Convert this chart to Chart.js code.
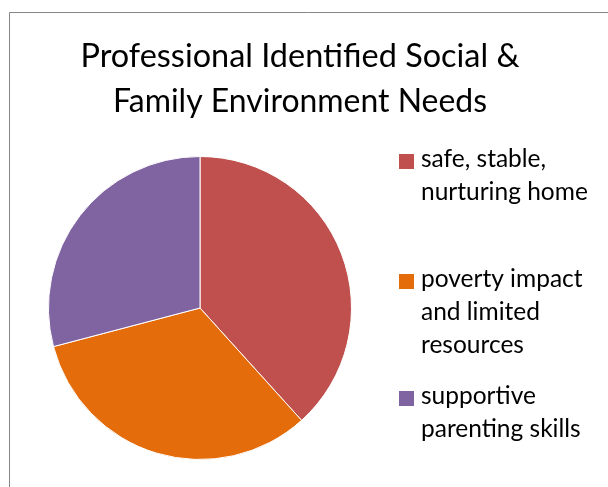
<!DOCTYPE html>
<html>
<head>
<meta charset="utf-8">
<title>Professional Identified Social & Family Environment Needs</title>
<script src="https://cdn.jsdelivr.net/npm/chart.js@4"></script>
<style>
  html, body { margin: 0; padding: 0; background: #fff; }
  #needsChart { display: block; }
</style>
</head>
<body>
<canvas id="needsChart" width="608" height="487"></canvas>
<script>
// slice data (share of responses, %)
const categories = ['safe, stable, nurturing home', 'poverty impact and limited resources', 'supportive parenting skills'];
const shares = [38.3, 32.6, 29.1];
const sliceColors = ['#C0504D', '#E46C0A', '#8064A2'];
// legend text as it wraps in the legend box
const legendLines = [
    ['safe, stable,', 'nurturing home'],
    ['poverty impact', 'and limited', 'resources'],
    ['supportive', 'parenting skills']
];
const titleLines = ['Professional Identified Social &', 'Family Environment Needs'];

//frame, title and legend drawn straight onto the canvas
const decorations = {
    id: 'decorations',
    beforeDraw(chart) {
        const ctx = chart.ctx;
        ctx.save();
        ctx.strokeStyle = '#868686';
        ctx.lineWidth = 1;
        ctx.beginPath();
        ctx.moveTo(9.5, 487);
        ctx.lineTo(9.5, 12.5);
        ctx.lineTo(608, 12.5);
        ctx.stroke();
        ctx.restore();
    },
    afterDraw(chart) {
        const ctx = chart.ctx;
        ctx.save();
        ctx.fillStyle = '#000';
        ctx.textBaseline = 'alphabetic';

        //title
        ctx.textAlign = 'center';
        ctx.font = '32.5px Lato';
        ctx.fillText(titleLines[0], 300, 67, 439);
        ctx.fillText(titleLines[1], 300, 112, 374);

        //legend
        ctx.textAlign = 'left';
        ctx.font = '24.5px Lato';
        const firstBaselines = [167, 287, 404];
        legendLines.forEach((lines, i) => {
            const y0 = firstBaselines[i];
            ctx.fillStyle = sliceColors[i];
            ctx.fillRect(399, y0 - 13, 15, 15);
            ctx.fillStyle = '#000';
            lines.forEach((line, j) => {
                ctx.fillText(line, 421, y0 + j * 33);
            });
        });
        ctx.restore();
    }
};

const needsChart = new Chart(document.getElementById('needsChart'), {
    type: 'pie',
    data: {
        labels: categories,
        datasets: [{
            data: shares,
            backgroundColor: sliceColors,
            borderColor: '#ffffff',
            borderWidth: 1
        }]
    },
    options: {
        responsive: false,
        animation: false,
        layout: {
            padding: { left: 48, top: 156, right: 256, bottom: 27 }
        },
        plugins: {
            legend: { display: false },
            title: { display: false },
            tooltip: { enabled: false }
        }
    },
    plugins: [decorations]
});
</script>
</body>
</html>
